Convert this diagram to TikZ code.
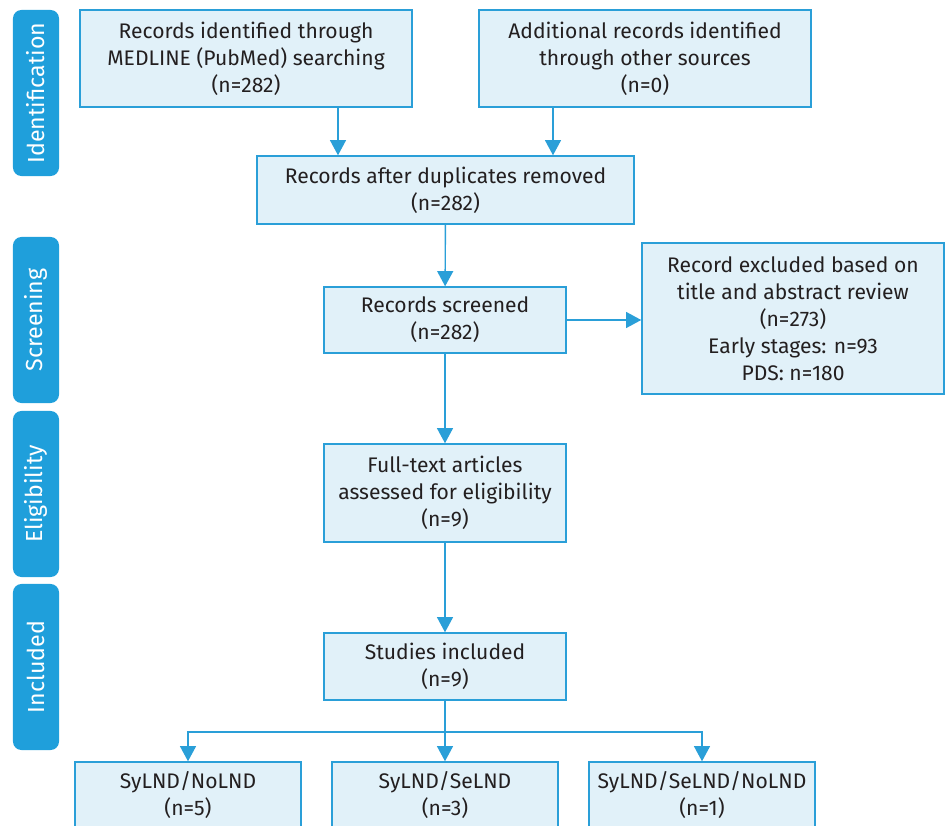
\documentclass[tikz,border=0pt]{standalone}
\usepackage{fontspec}
\setmainfont{Fira Sans}
\usetikzlibrary{arrows.meta}
\definecolor{boxfill}{HTML}{E1F1F9}
\definecolor{boxline}{HTML}{2A9FD8}
\definecolor{tabfill}{HTML}{1F9FDB}
\definecolor{txt}{HTML}{231F20}

\begin{document}
\begin{tikzpicture}[x=0.025cm, y=-0.025cm]
        \tikzstyle{box}=[draw=boxline, fill=boxfill, line width=1pt,
            align=center, text=txt, inner sep=0pt,
            font=\fontsize{15}{19.2}\selectfont]
        \tikzstyle{tab}=[fill=tabfill, rounded corners=6pt, rotate=90,
            text=white, inner sep=0pt, minimum width=4.15cm,
            minimum height=1.15cm, font=\fontsize{16.5}{19.2}\selectfont]
        \tikzstyle{arr}=[draw=boxline, line width=1pt,
            -{Triangle[length=0.38cm, width=0.4cm]}]
        \clip (0,0) rectangle (945,826);

        \node[tab] (ident) at (36, 93) {Identification};
        \node[tab] (screen) at (36, 320) {Screening};
        \node[tab] (elig) at (36, 494) {Eligibility};
        \node[tab] (incl) at (36, 667) {Included};

        \node[box, minimum width=8.3cm, minimum height=2.425cm] (medline) at (246, 58.5)
            {Records identified through\\MEDLINE (PubMed) searching\\(n=282)};
        \node[box, minimum width=8.3cm, minimum height=2.425cm] (other) at (645, 58.5)
            {Additional records identified\\through other sources\\(n=0)};
        \node[box, minimum width=9.425cm, minimum height=1.7cm] (dupl) at (445.5, 190)
            {Records after duplicates removed\\(n=282)};
        \node[box, minimum width=6.05cm, minimum height=1.65cm] (screened) at (445, 320)
            {Records screened\\(n=282)};
        \node[box, minimum width=7.55cm, minimum height=3.775cm] (excl) at (793, 318.5)
            {Record excluded based on\\title and abstract review\\(n=273)\\Early stages: n=93\\PDS: n=180};
        \node[box, minimum width=6.05cm, minimum height=2.45cm] (full) at (445, 493)
            {Full-text articles\\assessed for eligibility\\(n=9)};
        \node[box, minimum width=6.05cm, minimum height=1.675cm] (studies) at (445, 666.5)
            {Studies included\\(n=9)};
        \node[box, minimum width=5.65cm, minimum height=1.65cm] (nolnd) at (188, 795)
            {SyLND/NoLND\\(n=5)};
        \node[box, minimum width=5.65cm, minimum height=1.65cm] (selnd) at (445, 795)
            {SyLND/SeLND\\(n=3)};
        \node[box, minimum width=5.65cm, minimum height=1.65cm] (both) at (702, 795)
            {SyLND/SeLND/NoLND\\(n=1)};

        \coordinate (m1) at (338, 0);
        \coordinate (m2) at (553, 0);
        \coordinate (split) at (445, 732);

        \draw[arr] (medline.south -| m1) -- (dupl.north -| m1);
        \draw[arr] (other.south -| m2) -- (dupl.north -| m2);
        \draw[arr] (dupl) -- (screened);
        \draw[arr] (screened.east) -- (screened.east -| excl.west);
        \draw[arr] (screened) -- (full);
        \draw[arr] (full) -- (studies);
        \draw[draw=boxline, line width=1pt] (studies.south) -- (split);
        \draw[arr] (split) -| (nolnd.north);
        \draw[arr] (split) -- (selnd.north);
        \draw[arr] (split) -| (both.north);

    \end{tikzpicture}
\end{document}
